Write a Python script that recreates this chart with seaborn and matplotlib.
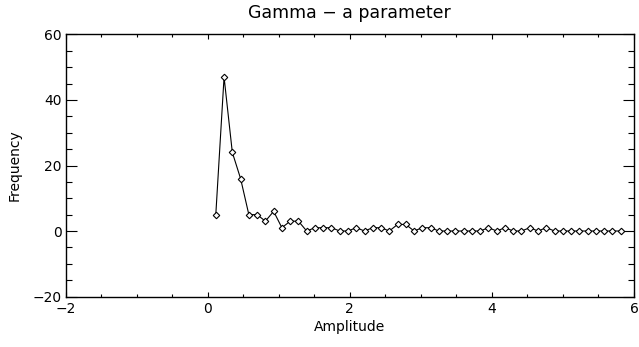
import numpy as np
import pandas as pd
import matplotlib
matplotlib.use("Agg")
import matplotlib.pyplot as plt
import seaborn as sns

# ---- data ----
amplitude_start = 0.113
amplitude_step = 0.1163
frequency = [5, 47, 24, 16, 5, 5, 3, 6, 1, 3,
             3, 0, 1, 1, 1, 0, 0, 1, 0, 1,
             1, 0, 2, 2, 0, 1, 1, 0, 0, 0,
             0, 0, 0, 1, 0, 1, 0, 0, 1, 0,
             1, 0, 0, 0, 0, 0, 0, 0, 0, 0]
amplitude = [round(amplitude_start + i * amplitude_step, 4) for i in range(len(frequency))]

title = "Gamma \u2212 a parameter"
xlabel = "Amplitude"
ylabel = "Frequency"
x_ticks = [-2, 0, 2, 4, 6]
y_ticks = [-20, 0, 20, 40, 60]

df = pd.DataFrame({"Amplitude": amplitude, "Frequency": frequency})

sns.set_style("ticks")
plt.rcParams["font.family"] = ["DejaVu Sans"]
plt.rcParams["axes.unicode_minus"] = True
plt.rcParams["text.color"] = "black"
plt.rcParams["axes.labelcolor"] = "black"
plt.rcParams["xtick.color"] = "black"
plt.rcParams["ytick.color"] = "black"

fig = plt.figure(figsize=(6.39, 3.47), dpi=100)
ax = fig.add_axes([0.1028, 0.1455, 0.8894, 0.7551])

sns.lineplot(data=df, x="Amplitude", y="Frequency", ax=ax, color="black",
             linewidth=0.8, marker="D", markersize=3.3, markerfacecolor="white",
             markeredgecolor="black", markeredgewidth=0.8)

ax.set_xlim(-2, 6)
ax.set_ylim(-20, 60)
ax.set_xticks(x_ticks)
ax.set_yticks(y_ticks)
ax.set_xticks(np.arange(-2, 6.01, 0.5), minor=True)
ax.set_yticks(np.arange(-20, 60.01, 5), minor=True)

for s in ax.spines.values():
    s.set_visible(True)
    s.set_color("black")
    s.set_linewidth(1.0)

ax.tick_params(axis="x", which="major", direction="in", length=3.8, width=0.8,
               top=True, bottom=True, labelsize=10, pad=4, colors="black")
ax.tick_params(axis="x", which="minor", direction="in", length=1.9, width=0.8,
               top=True, bottom=True)
ax.tick_params(axis="y", which="major", direction="in", length=8.2, width=0.8,
               left=True, right=True, labelsize=10, pad=3, colors="black")
ax.tick_params(axis="y", which="minor", direction="in", length=4.1, width=0.8,
               left=True, right=True)

ax.set_title(title, fontsize=12.5, pad=12, color="black")
ax.set_xlabel(xlabel, fontsize=10, labelpad=3, color="black")
ax.set_ylabel(ylabel, fontsize=10, labelpad=8, color="black")
ax.grid(False)

fig.savefig("out.png", dpi=100, facecolor="white")
